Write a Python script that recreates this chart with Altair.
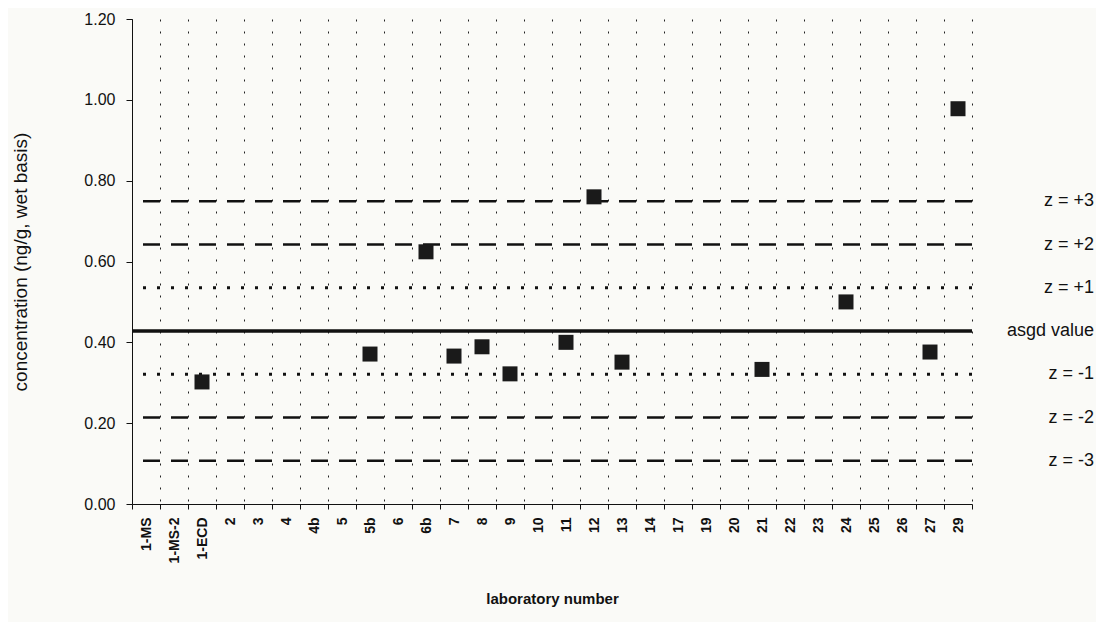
import altair as alt
import pandas as pd

labs = ["1-MS", "1-MS-2", "1-ECD", "2", "3", "4", "4b", "5", "5b", "6", "6b", "7", "8", "9",
        "10", "11", "12", "13", "14", "17", "19", "20", "21", "22", "23", "24", "25", "26", "27", "29"]

point_labs = ["1-ECD", "5b", "6b", "7", "8", "9", "11", "12", "13", "21", "24", "27", "29"]
point_vals = [0.302, 0.371, 0.624, 0.366, 0.389, 0.322, 0.400, 0.760, 0.351, 0.333, 0.500, 0.376, 0.978]

line_names = ["z = +3", "z = +2", "z = +1", "asgd value", "z = -1", "z = -2", "z = -3"]
line_vals = [0.749, 0.642, 0.535, 0.428, 0.321, 0.214, 0.107]
line_kind = ["dash", "dash", "dot", "solid", "dot", "dash", "dash"]

W, H = 840, 485

pts = pd.DataFrame({"lab": point_labs, "conc": point_vals})
lines = pd.DataFrame({"name": line_names, "val": line_vals, "kind": line_kind})

yscale = alt.Scale(domain=[0, 1.2], nice=False)

base_x = alt.X("lab:N", sort=labs,
               scale=alt.Scale(domain=labs, paddingInner=0, paddingOuter=0),
               axis=alt.Axis(title="laboratory number", labelAngle=-90, tickBand="extent",
                             grid=True, gridDash=[2, 10], gridColor="#222", gridWidth=1,
                             domainColor="#111", tickColor="#111", tickSize=5,
                             labelFont="Liberation Sans", labelFontSize=14, labelFontWeight="bold",
                             labelColor="#111", labelPadding=8,
                             titleFont="Liberation Sans", titleFontSize=15, titleFontWeight="bold",
                             titleColor="#111", titlePadding=29))

points = alt.Chart(pts).mark_square(size=225, color="#1a1a1a", opacity=1).encode(
    x=base_x,
    y=alt.Y("conc:Q", scale=yscale,
            axis=alt.Axis(title="concentration (ng/g, wet basis)", values=[0, 0.2, 0.4, 0.6, 0.8, 1.0, 1.2],
                          format=".2f", grid=False, domainColor="#111", tickColor="#111", tickSize=6,
                          labelFont="Liberation Sans", labelFontSize=16, labelColor="#111", labelPadding=11,
                          titleFont="Liberation Sans", titleFontSize=19, titleFontWeight="normal",
                          titleColor="#111", titlePadding=53)),
)

def rule_layer(kind, dash, width):
    d = lines[lines.kind == kind]
    return alt.Chart(d).mark_rule(color="#111", strokeWidth=width, strokeDash=dash).encode(
        y=alt.Y("val:Q", scale=yscale))

dashed = rule_layer("dash", [17, 11], 2.5)
dotted = rule_layer("dot", [3, 11], 3)
solid = rule_layer("solid", [1, 0], 3.5)

labels = alt.Chart(lines).mark_text(font="Liberation Sans", fontSize=18, color="#111", align="right",
                                    baseline="middle").encode(
    x=alt.value(W + 122),
    y=alt.Y("val:Q", scale=yscale),
    text="name:N")

chart = alt.layer(dashed, dotted, solid, points, labels).properties(
    width=W, height=H,
    autosize=alt.AutoSizeParams(type="none"),
    padding={"left": 124, "top": 11, "right": 124, "bottom": 118},
    background="#fafaf7",
).configure_view(stroke=None)

chart.save("out.html", embed_options={"renderer": "svg", "actions": False})
